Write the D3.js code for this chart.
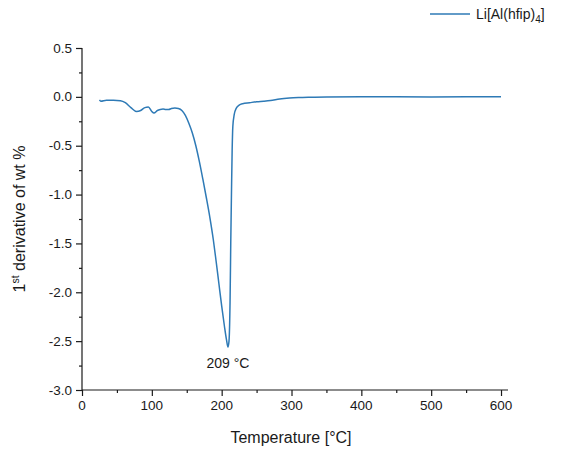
<!DOCTYPE html>
<html>
<head>
<meta charset="utf-8">
<script src="https://cdn.jsdelivr.net/npm/d3@7"></script>
<style>
  body { margin: 0; background: #fff; }
  text { font-family: "Liberation Sans", Arial, sans-serif; fill: #1a1a1a; }
</style>
</head>
<body>
<svg width="566" height="449"></svg>
<script>
// data
var temperature = [25, 27, 35, 45, 55, 62, 70, 78, 84, 90, 95, 100, 103, 108, 112, 116, 120, 124, 128, 133, 138,
  143, 148, 153, 158, 163, 168, 173, 178, 183, 188, 192, 196, 200, 204, 207, 209, 210.5, 212, 213, 214,
  215, 216, 218, 221, 225, 230, 240, 250, 260, 270, 283, 297, 310, 326, 350, 400, 450, 500, 550, 600];
var derivative = [-0.03, -0.045, -0.035, -0.035, -0.04, -0.06, -0.11, -0.15, -0.14, -0.11, -0.105, -0.15, -0.165, -0.14, -0.13, -0.125, -0.13, -0.13, -0.12, -0.115, -0.12,
  -0.14, -0.19, -0.27, -0.37, -0.50, -0.66, -0.84, -1.03, -1.23, -1.46, -1.68, -1.91, -2.14, -2.35, -2.49, -2.56, -2.50, -2.1, -1.5, -1.0,
  -0.55, -0.30, -0.18, -0.115, -0.085, -0.07, -0.06, -0.05, -0.045, -0.038, -0.022, -0.012, -0.007, -0.004, -0.002, 0.0, 0.0, -0.002, 0.0, 0.0];
var xTicks = [0, 100, 200, 300, 400, 500, 600];
var yTicks = [0.5, 0.0, -0.5, -1.0, -1.5, -2.0, -2.5, -3.0];
var seriesName = 'Li[Al(hfip)';
var peakLabel = '209 °C';
var peakTemp = 209;
var peakValue = -2.56;

var lineColor = '#2e7ab6';
var svg = d3.select('svg');

var x = d3.scaleLinear().domain([0, 610]).range([82, 508]);
var y = d3.scaleLinear().domain([-3, 0.5]).range([390, 48]);

// x axis
var xAxis = svg.append('g').attr('transform', 'translate(0,390)');
xAxis.call(d3.axisBottom(x).tickValues(d3.range(0, 601, 50)).tickSize(3).tickFormat(''));
xAxis.call(g => g.selectAll('.tick line').filter(d => d % 100 === 0).attr('y2', 6));
xAxis.append('g').selectAll('text').data(xTicks).join('text')
  .attr('x', d => x(d)).attr('y', 20).attr('text-anchor', 'middle')
  .style('font-size', '13.5px').text(d => d);

// y axis
var yAxis = svg.append('g').attr('transform', 'translate(82,0)');
yAxis.call(d3.axisLeft(y).tickValues(d3.range(-3, 0.51, 0.25)).tickSize(3).tickFormat(''));
yAxis.call(g => g.selectAll('.tick line').filter(d => Math.abs(d * 2 - Math.round(d * 2)) < 1e-6).attr('x2', -6));
yAxis.append('g').selectAll('text').data(yTicks).join('text')
  .attr('x', -10).attr('y', d => y(d) + 4.5).attr('text-anchor', 'end')
  .style('font-size', '13.5px').text(d => d.toFixed(1));

svg.selectAll('.domain').attr('stroke', '#1a1a1a').attr('stroke-width', 1.2);
svg.selectAll('.tick line').attr('stroke', '#1a1a1a').attr('stroke-width', 1.2);
// plain axis lines without end caps
xAxis.select('.domain').attr('d', 'M82,0H508');
yAxis.select('.domain').attr('d', 'M0,48V390');

// axis titles
svg.append('text').attr('x', 291).attr('y', 443).attr('text-anchor', 'middle')
  .style('font-size', '16px').text('Temperature [°C]');

var yTitle = svg.append('text').attr('transform', 'translate(25,219) rotate(-90)')
  .attr('text-anchor', 'middle').style('font-size', '16px');
yTitle.append('tspan').text('1');
yTitle.append('tspan').attr('dy', -6).style('font-size', '10.5px').text('st');
yTitle.append('tspan').attr('dy', 6).text(' derivative of wt %');

// curve
var points = temperature.map((t, i) => [t, derivative[i]]);
svg.append('path').datum(points)
  .attr('fill', 'none').attr('stroke', lineColor).attr('stroke-width', 1.5)
  .attr('d', d3.line().x(d => x(d[0])).y(d => y(d[1])).curve(d3.curveMonotoneX));

// peak annotation
svg.append('text').attr('x', x(peakTemp)).attr('y', y(peakValue) + 21).attr('text-anchor', 'middle')
  .style('font-size', '14px').text(peakLabel);

// legend
svg.append('line').attr('x1', 430).attr('x2', 470).attr('y1', 14).attr('y2', 14)
  .attr('stroke', lineColor).attr('stroke-width', 1.5);
var leg = svg.append('text').attr('x', 476).attr('y', 19).style('font-size', '14px');
leg.append('tspan').text(seriesName);
leg.append('tspan').attr('dy', 4).style('font-size', '10px').text('4');
leg.append('tspan').attr('dy', -4).text(']');
</script>
</body>
</html>
